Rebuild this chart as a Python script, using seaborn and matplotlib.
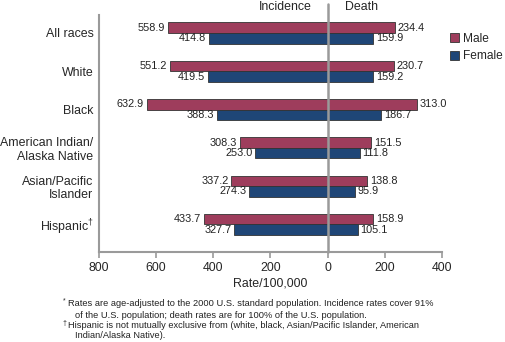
import matplotlib
matplotlib.use("Agg")
import matplotlib.pyplot as plt
import seaborn as sns
import pandas as pd
from matplotlib.patches import Patch

# ---- data ----
races = ["All races", "White", "Black", "American Indian/\nAlaska Native",
         "Asian/Pacific\nIslander", "Hispanic\u2020"]
sexes = ["Male", "Female"]
incidence_male = [558.9, 551.2, 632.9, 308.3, 337.2, 433.7]
incidence_female = [414.8, 419.5, 388.3, 253.0, 274.3, 327.7]
death_male = [234.4, 230.7, 313.0, 151.5, 138.8, 158.9]
death_female = [159.9, 159.2, 186.7, 111.8, 95.9, 105.1]
x_ticks = [-800, -600, -400, -200, 0, 200, 400]
x_tick_labels = ["800", "600", "400", "200", "0", "200", "400"]

MALE = "#9e3d5c"
FEMALE = "#1f4677"
GRAY = "#9a9a9a"

sns.set_theme(style="white")
plt.rcParams["font.family"] = ["Liberation Sans", "DejaVu Sans"]
plt.rcParams["mathtext.fontset"] = "custom"
plt.rcParams["mathtext.rm"] = "Liberation Sans"
plt.rcParams["mathtext.it"] = "Liberation Sans:italic"
plt.rcParams["mathtext.default"] = "regular"

inc = pd.DataFrame({
    "race": races * 2,
    "sex": ["Male"] * 6 + ["Female"] * 6,
    "value": [-v for v in incidence_male] + [-v for v in incidence_female],
})
dth = pd.DataFrame({
    "race": races * 2,
    "sex": ["Male"] * 6 + ["Female"] * 6,
    "value": death_male + death_female,
})

W, H = 506, 342
fig = plt.figure(figsize=(W / 100, H / 100), dpi=100)
ax = fig.add_axes([99 / W, 1 - 252 / H, 343 / W, 237 / H])

FS = 8.9
pal = {"Male": MALE, "Female": FEMALE}
for d in (inc, dth):
    sns.barplot(data=d, x="value", y="race", hue="sex", hue_order=sexes,
                order=races, orient="h", palette=pal, width=0.55,
                errorbar=None, edgecolor="#333333", linewidth=0.6,
                legend=False, ax=ax, saturation=1)

for c in ax.containers:
    ax.bar_label(c, labels=[f"{abs(b.get_width()):.1f}" for b in c],
                 padding=2, fontsize=7.8, color="#222222")

ax.set_xlim(-800, 400)
ax.set_ylim(5.72, -0.47)
ax.set_xticks(x_ticks)
ax.set_xticklabels(x_tick_labels, fontsize=FS)
ytl = [r.replace("\u2020", "$^{\u2020}$") for r in races]
ax.set_yticks(range(len(races)))
ax.set_yticklabels(ytl, fontsize=FS, linespacing=1.2)
ax.set_ylabel("")
ax.set_xlabel("Rate/100,000", fontsize=FS, labelpad=2.5)

for s in ("top", "right"):
    ax.spines[s].set_visible(False)
for s in ("left", "bottom"):
    ax.spines[s].set_color(GRAY)
    ax.spines[s].set_linewidth(1.5)
ax.tick_params(axis="x", length=4, width=1.2, color=GRAY, pad=3, bottom=True)
ax.tick_params(axis="y", length=0, pad=4)

ax.axvline(0, ymin=0, ymax=(252 - 4) / 237, color=GRAY, lw=1.8,
           clip_on=False, zorder=5)

ax.text(-55, 1 + 8 / 237, "Incidence", transform=ax.get_xaxis_transform(),
        ha="right", va="center", fontsize=FS)
ax.text(62, 1 + 8 / 237, "Death", transform=ax.get_xaxis_transform(),
        ha="left", va="center", fontsize=FS)

handles = [Patch(facecolor=pal[s], edgecolor="#333333", linewidth=0.6) for s in sexes]
fig.legend(handles, sexes, loc="upper left", bbox_to_anchor=(450 / W, 1 - 33 / H),
           frameon=False, fontsize=8.6, handlelength=0.75, handleheight=0.75,
           handletextpad=0.35, labelspacing=0.45, borderpad=0, borderaxespad=0)

foot = 6.7
fig.text(63 / W, 1 - 301 / H, "*", fontsize=5, ha="left", va="center")
fig.text(68 / W, 1 - 304 / H,
         "Rates are age-adjusted to the 2000 U.S. standard population. Incidence rates cover 91%",
         fontsize=foot, ha="left", va="center", color="#222222")
fig.text(75 / W, 1 - 315 / H,
         "of the U.S. population; death rates are for 100% of the U.S. population.",
         fontsize=foot, ha="left", va="center", color="#222222")
fig.text(62 / W, 1 - 323 / H, "\u2020", fontsize=5, ha="left", va="center")
fig.text(68 / W, 1 - 325.5 / H,
         "Hispanic is not mutually exclusive from (white, black, Asian/Pacific Islander, American",
         fontsize=foot, ha="left", va="center", color="#222222")
fig.text(75 / W, 1 - 336 / H, "Indian/Alaska Native).",
         fontsize=foot, ha="left", va="center", color="#222222")

fig.savefig("out.png", dpi=100)
